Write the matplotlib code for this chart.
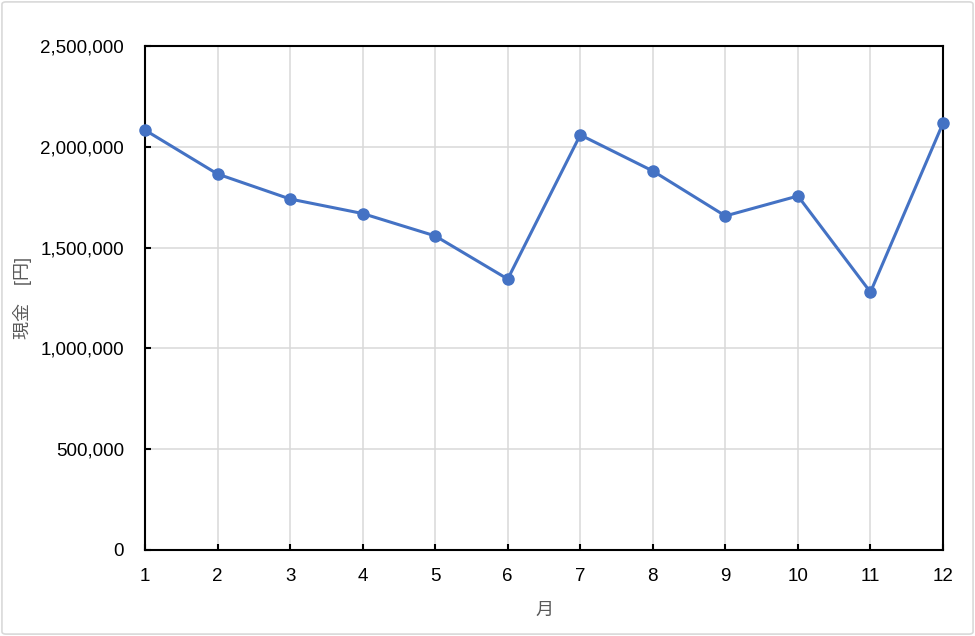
import matplotlib
matplotlib.use("Agg")
import matplotlib.pyplot as plt
from matplotlib.ticker import FuncFormatter, MultipleLocator
from matplotlib.patches import FancyBboxPatch

months = [1, 2, 3, 4, 5, 6, 7, 8, 9, 10, 11, 12]
cash = [2083000, 1865000, 1741000, 1669000, 1558000, 1344000,
        2059000, 1880000, 1657000, 1756000, 1279000, 2117000]

plt.rcParams['font.family'] = ['Liberation Sans', 'Noto Sans CJK JP', 'DejaVu Sans']

fig = plt.figure(figsize=(9.75, 6.36), dpi=100, facecolor='white')
border = FancyBboxPatch((0.002, 0.003), 0.996, 0.994, boxstyle="round,pad=0,rounding_size=0.004",
                        transform=fig.transFigure, facecolor='none', edgecolor='#D9D9D9',
                        linewidth=1.2, zorder=-5)
fig.patches.append(border)

ax = fig.add_axes([145/975, 86/636, (943-145)/975, (550-46)/636])
ax.plot(months, cash, color='#4472C4', linewidth=2.2, marker='o', markersize=8, zorder=3, clip_on=False)

ax.set_xlim(1, 12)
ax.set_ylim(0, 2500000)
ax.xaxis.set_major_locator(MultipleLocator(1))
ax.yaxis.set_major_locator(MultipleLocator(500000))
ax.yaxis.set_major_formatter(FuncFormatter(lambda v, p: f"{int(v):,}"))
ax.grid(True, color='#D9D9D9', linewidth=1.1)
ax.set_axisbelow(True)
for s in ax.spines.values():
    s.set_color('black')
    s.set_linewidth(1.5)
ax.tick_params(direction='in', length=4, width=1.5, colors='black', labelsize=13.5)
ax.tick_params(axis='y', pad=15)
ax.tick_params(axis='x', pad=13)

ax.set_xlabel('月', fontsize=13, color='#595959', labelpad=12)
ax.set_ylabel('現金\u3000[円]', fontsize=13, color='#595959', labelpad=6)

fig.savefig('out.png', dpi=100)
